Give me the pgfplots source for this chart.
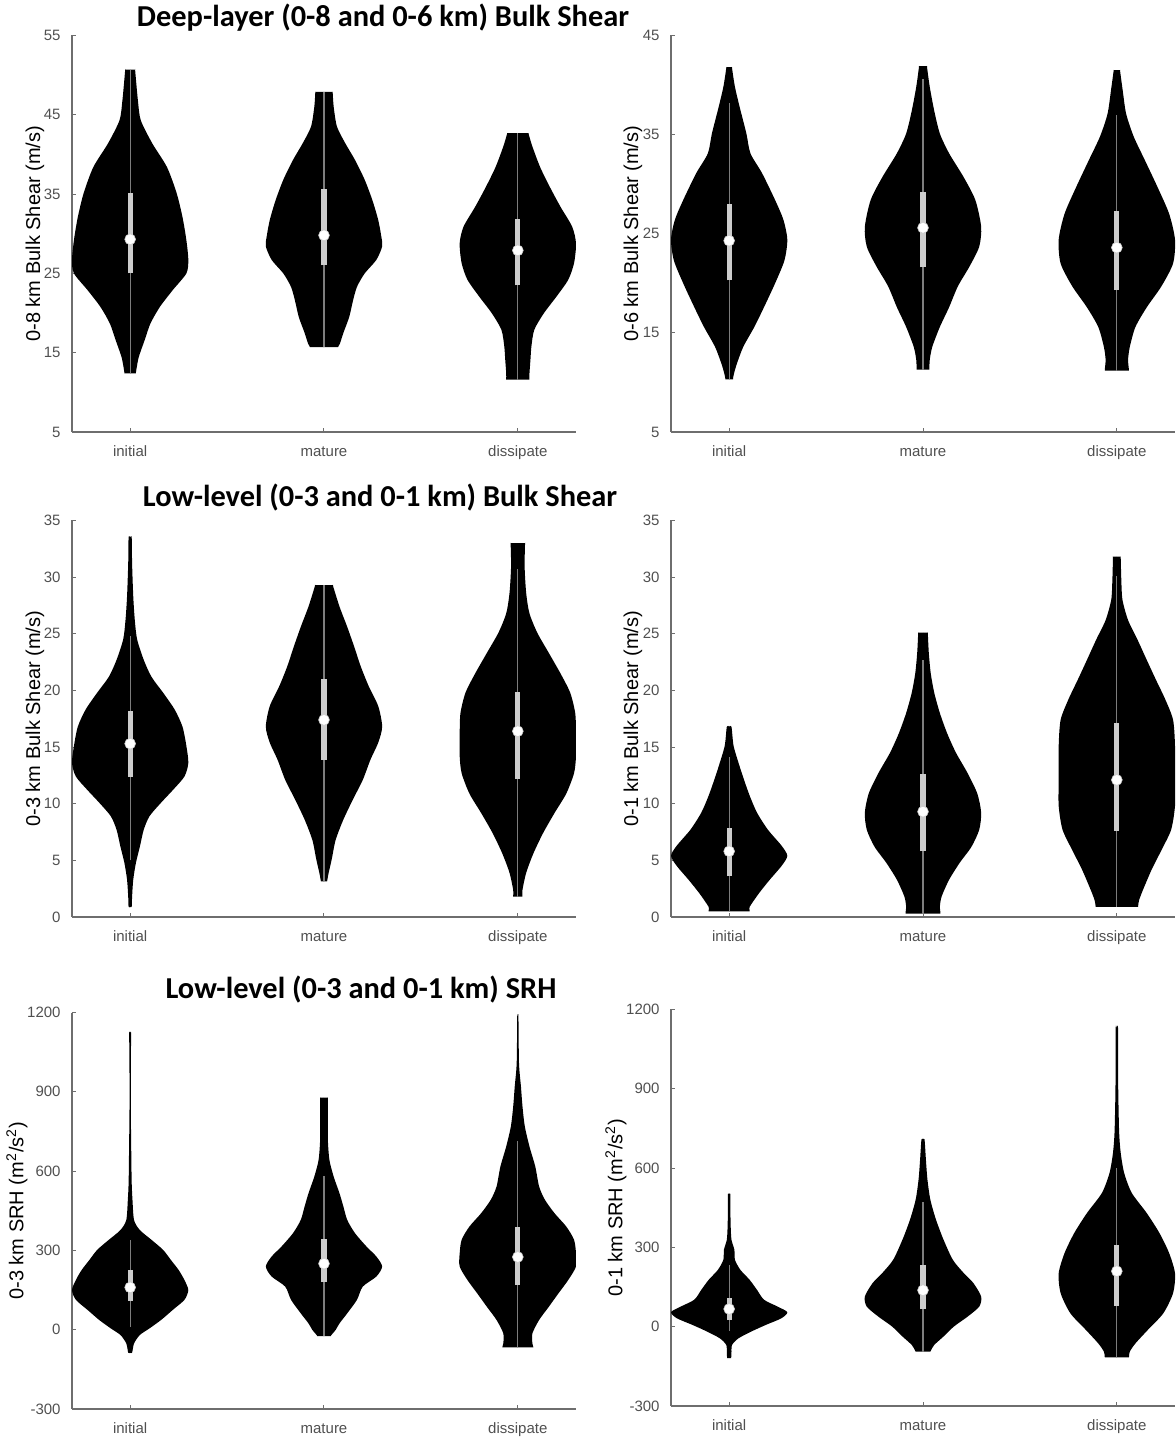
\documentclass[border=0pt]{standalone}
\usepackage{pgfplots}
\pgfplotsset{compat=1.18}
\usepackage{pgfplotstable}
\usepackage{fontspec}
\setmainfont{Liberation Sans}
\newfontfamily\titlefont{Carlito}
\definecolor{axgray}{RGB}{110,110,110}
\definecolor{lblgray}{RGB}{80,80,80}
\definecolor{whiskercol}{RGB}{125,125,125}
\definecolor{boxcol}{RGB}{205,205,205}

% Each table: outline of one half of a violin, y (value) and w (half width),
% from the flat bottom cap to the flat top cap.
% ---------- Row 1 left: 0-8 km bulk shear ----------
\pgfplotstableread{
y w
12.4 0
12.4 0.027
12.4 0.030
12.55 0.030
13.3 0.035
14.5 0.045
16.6 0.075
18.7 0.105
20.8 0.154
22.9 0.22
25.0 0.29
26.7 0.30
29.2 0.29
32.1 0.27
35.1 0.24
38.4 0.19
41.4 0.114
44.3 0.055
46.8 0.04
50.55 0.026
50.7 0.026
50.7 0.023
50.7 0
}\aLi
\pgfplotstableread{
y w
15.7 0
15.7 0.066
15.7 0.073
15.85 0.075
16.2 0.083
17.5 0.10
19.5 0.13
21.6 0.15
23.3 0.17
25.0 0.21
26.7 0.27
28.4 0.30
29.6 0.296
31.7 0.28
34.2 0.25
36.8 0.21
39.3 0.16
41.4 0.11
43.5 0.067
46.0 0.05
47.75 0.045
47.9 0.045
47.9 0.040
47.9 0
}\aLm
\pgfplotstableread{
y w
11.6 0
11.6 0.054
11.6 0.06
11.75 0.06
12.4 0.06
14.1 0.065
15.8 0.07
17.9 0.085
20.0 0.135
22.1 0.20
24.2 0.26
26.3 0.29
28.8 0.30
30.9 0.28
33.4 0.22
35.9 0.165
38.4 0.115
41.0 0.075
42.55 0.056
42.7 0.055
42.7 0.050
42.7 0
}\aLd
% ---------- Row 1 right: 0-6 km bulk shear ----------
\pgfplotstableread{
y w
10.3 0
10.3 0.018
10.3 0.02
10.42 0.02
10.9 0.025
11.9 0.04
13.6 0.073
15.6 0.13
17.6 0.18
20.0 0.237
22.3 0.285
24.4 0.30
26.4 0.28
28.4 0.237
31.1 0.17
33.1 0.11
35.1 0.089
37.8 0.054
39.8 0.03
41.68 0.015
41.8 0.015
41.8 0.013
41.8 0
}\aRi
\pgfplotstableread{
y w
11.3 0
11.3 0.030
11.3 0.033
11.42 0.033
12.3 0.035
13.6 0.048
15.6 0.087
17.6 0.135
19.7 0.18
21.7 0.24
23.7 0.29
25.7 0.30
28.4 0.27
30.7 0.21
33.1 0.135
35.1 0.087
37.4 0.058
39.8 0.035
41.78 0.021
41.9 0.021
41.9 0.019
41.9 0
}\aRm
\pgfplotstableread{
y w
11.2 0
11.2 0.056
11.2 0.062
11.32 0.062
12.3 0.058
13.6 0.067
15.6 0.096
17.6 0.155
19.7 0.23
22.0 0.29
24.4 0.30
27.0 0.27
29.7 0.21
32.4 0.145
34.8 0.087
37.1 0.048
39.5 0.03
41.38 0.017
41.5 0.017
41.5 0.015
41.5 0
}\aRd
% ---------- Row 2 left: 0-3 km bulk shear ----------
\pgfplotstableread{
y w
0.9 0
0.9 0.008
1.8 0.01
3.3 0.016
4.8 0.03
6.2 0.05
7.7 0.07
8.9 0.10
10.1 0.16
11.2 0.22
12.4 0.28
13.6 0.30
15.1 0.29
16.8 0.27
18.3 0.23
19.8 0.17
21.2 0.11
22.7 0.07
24.5 0.036
26.2 0.024
28.3 0.016
31.2 0.01
33.5 0.008
33.5 0
}\bLi
\pgfplotstableread{
y w
3.15 0
3.15 0.014
3.15 0.016
3.25 0.017
3.9 0.024
5.1 0.04
6.8 0.06
8.6 0.10
10.4 0.15
12.1 0.20
13.9 0.24
15.4 0.28
16.8 0.30
18.6 0.28
20.4 0.23
22.1 0.19
23.9 0.155
25.6 0.12
27.4 0.08
29.2 0.047
29.3 0.047
29.3 0.042
29.3 0
}\bLm
\pgfplotstableread{
y w
1.8 0
1.8 0.022
1.8 0.024
1.9 0.024
2.4 0.024
3.9 0.043
5.6 0.08
7.4 0.13
9.2 0.19
10.9 0.25
12.7 0.29
14.2 0.30
16.2 0.30
18.0 0.296
19.8 0.27
21.5 0.22
23.3 0.16
25.1 0.10
26.8 0.06
28.6 0.043
30.9 0.035
32.9 0.037
33.0 0.037
33.0 0.033
33.0 0
}\bLd
% ---------- Row 2 right: 0-1 km bulk shear ----------
\pgfplotstableread{
y w
0.5 0
0.5 0.095
0.5 0.106
0.6 0.106
0.9 0.106
2.1 0.154
3.3 0.21
4.5 0.27
5.4 0.30
6.3 0.27
7.7 0.20
9.2 0.144
10.7 0.106
12.1 0.077
13.3 0.054
15.1 0.023
16.8 0.012
16.8 0
}\bRi
\pgfplotstableread{
y w
0.3 0
0.3 0.081
0.3 0.09
0.4 0.09
0.9 0.087
1.8 0.096
3.3 0.135
4.8 0.19
6.2 0.25
7.7 0.29
9.2 0.30
10.9 0.28
12.7 0.23
14.5 0.17
16.2 0.125
18.0 0.087
19.8 0.058
21.5 0.04
23.3 0.03
25.0 0.025
25.1 0.025
25.1 0.022
25.1 0
}\bRm
\pgfplotstableread{
y w
0.9 0
0.9 0.10
0.9 0.11
1.0 0.11
1.5 0.115
2.4 0.135
4.2 0.18
5.9 0.23
7.7 0.28
9.8 0.30
12.2 0.30
15.1 0.30
17.4 0.29
19.2 0.25
21.0 0.20
22.7 0.154
24.5 0.106
26.2 0.058
28.0 0.029
29.8 0.023
31.7 0.02
31.8 0.02
31.8 0.018
31.8 0
}\bRd
% ---------- Row 3 left: 0-3 km SRH ----------
\pgfplotstableread{
y w
-87 0
-87 0.01
-52 0.02
-20 0.05
5 0.10
37 0.16
75 0.22
113 0.28
150 0.30
188 0.28
226 0.25
264 0.21
302 0.17
340 0.11
377 0.05
415 0.02
491 0.012
554 0.008
655 0.006
870 0.003
1046 0.004
1124 0.005
1124 0
}\cLi
\pgfplotstableread{
y w
-24 0
-24 0.031
-24 0.035
-20 0.038
-1 0.06
24 0.08
62 0.12
113 0.17
163 0.20
201 0.27
239 0.30
277 0.27
314 0.22
365 0.16
415 0.12
466 0.10
516 0.08
579 0.05
642 0.028
718 0.02
806 0.02
874 0.02
878 0.02
878 0.018
878 0
}\cLm
\pgfplotstableread{
y w
-67 0
-67 0.072
-67 0.08
-63 0.079
-52 0.075
-14 0.075
37 0.11
87 0.16
138 0.21
188 0.26
239 0.30
289 0.30
340 0.29
390 0.25
440 0.19
491 0.14
541 0.11
617 0.09
693 0.06
769 0.036
844 0.024
920 0.016
1008 0.006
1185 0.003
1185 0
}\cLd
% ---------- Row 3 right: 0-1 km SRH ----------
\pgfplotstableread{
y w
-119 0
-119 0.01
-100 0.012
-69 0.015
-44 0.048
-18 0.115
7 0.19
32 0.27
55 0.30
76 0.25
102 0.18
139 0.144
177 0.106
215 0.058
253 0.03
291 0.027
329 0.012
379 0.008
455 0.006
502 0.006
502 0
}\cRi
\pgfplotstableread{
y w
-94 0
-94 0.034
-94 0.038
-90 0.041
-69 0.058
-37 0.106
1 0.16
38 0.23
76 0.29
114 0.30
165 0.26
203 0.21
253 0.154
329 0.106
405 0.067
480 0.038
556 0.023
632 0.015
708 0.008
708 0
}\cRm
\pgfplotstableread{
y w
-116 0
-116 0.056
-116 0.062
-112 0.063
-94 0.067
-63 0.096
-12 0.16
51 0.24
127 0.29
202 0.30
278 0.27
354 0.22
430 0.154
506 0.077
581 0.038
657 0.02
733 0.012
859 0.008
985 0.006
1131 0.006
1131 0
}\cRd

% center, table, whisker lo, whisker hi, q1, q3, median
\newcommand{\violin}[7]{%
  \addplot[fill=black, draw=none, smooth, tension=0.45] table[x expr={#1+\thisrow{w}}, y=y]{#2};
  \addplot[fill=black, draw=none, smooth, tension=0.45] table[x expr={#1-\thisrow{w}}, y=y]{#2};
  \addplot[black, line width=0.6pt] table[x expr={#1}, y=y]{#2};
  \addplot[whiskercol, line width=0.55pt] coordinates {(#1,#3) (#1,#4)};
  \addplot[boxcol, line width=2.6pt] coordinates {(#1,#5) (#1,#6)};
  \addplot[only marks, mark=*, mark size=2.7pt, mark options={fill=white, draw=gray!40, line width=0.3pt}] coordinates {(#1,#7)};
}

\pgfplotsset{
  vio/.style={
    scale only axis, width=252pt, height=198.25pt,
    anchor=south west,
    xmin=0.7, xmax=3.3,
    xtick={1,2,3}, xticklabels={initial,mature,dissipate},
    axis x line=bottom, axis y line=left,
    axis line style={-, draw=axgray, line width=0.55pt},
    tick align=inside, major tick length=2pt,
    tick style={draw=axgray, line width=0.5pt},
    minor tick num=0,
    ticklabel style={font=\fontsize{7.5}{9}\selectfont, text=lblgray},
    xticklabel style={yshift=-0.5pt, text height=1.6ex, text depth=0.4ex},
    yticklabel style={xshift=-2.2pt},
    label style={font=\fontsize{8.3}{10}\selectfont, text=lblgray},
    every axis y label/.style={at={(axis description cs:0,0.5)}, rotate=90, anchor=center},
  },
}
\tikzset{
  titl/.style={font=\titlefont\bfseries\fontsize{15.2}{17}\selectfont, text=black},
}

\begin{document}
\begin{tikzpicture}
\path[use as bounding box] (0,0) rectangle (587.5pt,718.5pt);

\node[titl] at (191.5pt,709.5pt) {Deep-layer (0-8 and 0-6 km) Bulk Shear};
\node[titl] at (190pt,469.5pt) {Low-level (0-3 and 0-1 km) Bulk Shear};
\node[titl] at (180.5pt,223.5pt) {Low-level (0-3 and 0-1 km) SRH};

% Row 1 left
\begin{axis}[vio, at={(36pt,502.5pt)},
  ymin=5, ymax=55, ytick={5,15,25,35,45,55}, yticklabels={5,15,25,35,45,55},
  ylabel={0-8 km Bulk Shear (m/s)}, every axis y label/.append style={yshift=18.5pt}]
\violin{1}{\aLi}{12.4}{50.7}{25.0}{35.2}{29.3}
\violin{2}{\aLm}{15.7}{47.9}{26.0}{35.6}{29.8}
\violin{3}{\aLd}{11.6}{42.7}{23.5}{31.9}{27.9}
\end{axis}

% Row 1 right
\begin{axis}[vio, at={(335.5pt,502.5pt)},
  ymin=5, ymax=45, ytick={5,15,25,35,45}, yticklabels={5,15,25,35,45},
  ylabel={0-6 km Bulk Shear (m/s)}, every axis y label/.append style={yshift=19pt}]
\violin{1}{\aRi}{10.3}{38.2}{20.3}{28.0}{24.3}
\violin{2}{\aRm}{11.3}{40.6}{21.6}{29.2}{25.6}
\violin{3}{\aRd}{11.2}{37.0}{19.3}{27.3}{23.6}
\end{axis}

% Row 2 left
\begin{axis}[vio, at={(36pt,260pt)},
  ymin=0, ymax=35, ytick={0,5,...,35}, yticklabels={0,5,10,15,20,25,30,35},
  ylabel={0-3 km Bulk Shear (m/s)}, every axis y label/.append style={yshift=18.5pt}]
\violin{1}{\bLi}{5.0}{24.8}{12.4}{18.2}{15.3}
\violin{2}{\bLm}{3.2}{29.3}{13.9}{21.0}{17.4}
\violin{3}{\bLd}{1.8}{30.7}{12.2}{19.9}{16.4}
\end{axis}

% Row 2 right
\begin{axis}[vio, at={(335.5pt,260pt)},
  ymin=0, ymax=35, ytick={0,5,...,35}, yticklabels={0,5,10,15,20,25,30,35},
  ylabel={0-1 km Bulk Shear (m/s)}, every axis y label/.append style={yshift=19pt}]
\violin{1}{\bRi}{0.5}{14.1}{3.6}{7.9}{5.8}
\violin{2}{\bRm}{0.3}{22.7}{5.8}{12.6}{9.3}
\violin{3}{\bRd}{0.9}{30.1}{7.6}{17.1}{12.1}
\end{axis}

% Row 3 left
\begin{axis}[vio, at={(36pt,14pt)},
  ymin=-300, ymax=1200, ytick={-300,0,300,600,900,1200}, yticklabels={-300,0,300,600,900,1200},
  ylabel={0-3 km SRH (m\textsuperscript{2}/s\textsuperscript{2})}, every axis y label/.append style={yshift=27.5pt}]
\violin{1}{\cLi}{10}{340}{110}{225}{160}
\violin{2}{\cLm}{-24}{580}{180}{345}{250}
\violin{3}{\cLd}{-67}{715}{170}{390}{275}
\end{axis}

% Row 3 right
\begin{axis}[vio, at={(335.5pt,15.5pt)},
  ymin=-300, ymax=1200, ytick={-300,0,300,600,900,1200}, yticklabels={-300,0,300,600,900,1200},
  ylabel={0-1 km SRH (m\textsuperscript{2}/s\textsuperscript{2})}, every axis y label/.append style={yshift=27.5pt}]
\violin{1}{\cRi}{-15}{235}{25}{110}{67}
\violin{2}{\cRm}{-94}{470}{68}{232}{138}
\violin{3}{\cRd}{-116}{600}{80}{310}{210}
\end{axis}
\end{tikzpicture}
\end{document}
